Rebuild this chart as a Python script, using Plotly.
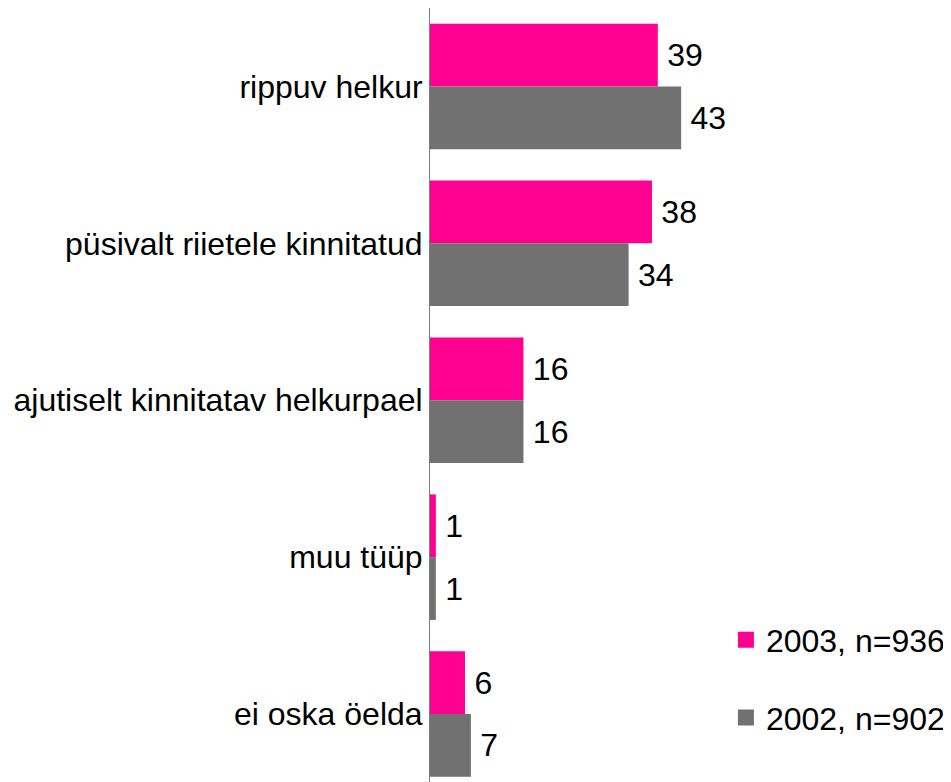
import plotly.graph_objects as go

categories = ["rippuv helkur", "püsivalt riietele kinnitatud", "ajutiselt kinnitatav helkurpael",
              "muu tüüp", "ei oska öelda"]
values_2003 = [39, 38, 16, 1, 6]
values_2002 = [43, 34, 16, 1, 7]
series_names = ["2003, n=936", "2002, n=902"]
colors = ["#FF0090", "#717171"]

FONT = "Liberation Sans, Arial, sans-serif"
FS = 32

fig = go.Figure()
for name, vals, col in zip(series_names, [values_2003, values_2002], colors):
    fig.add_trace(go.Bar(
        y=categories, x=vals, orientation="h", name=name,
        marker=dict(color=col, line=dict(width=0)),
        text=vals, texttemplate="\u2009%{x}", textposition="outside",
        textfont=dict(family=FONT, size=FS, color="black"),
        cliponaxis=False, showlegend=False,
    ))
# legend entries
for i, (name, col) in enumerate(zip(series_names, colors)):
    fig.add_trace(go.Scatter(
        x=[None], y=[None], mode="markers", name=name,
        marker=dict(symbol="square", size=16, color=col),
        legendgroup=f"g{i}", showlegend=True,
    ))

fig.update_layout(
    width=943, height=774,
    margin=dict(l=422, r=0, t=0, b=0),
    paper_bgcolor="white", plot_bgcolor="white",
    barmode="group", bargap=0.2, bargroupgap=0,
    font=dict(family=FONT, size=FS, color="black"),
    showlegend=True,
    legend=dict(x=0.568, xanchor="left", y=0.219, yanchor="top",
                font=dict(family=FONT, size=FS, color="black"),
                traceorder="grouped", tracegroupgap=33,
                bgcolor="rgba(0,0,0,0)", itemsizing="trace"),
    xaxis=dict(range=[0, 89.2], visible=False, showgrid=False, zeroline=False),
    yaxis=dict(range=[4.433, -0.5], showgrid=False, zeroline=False,
               showline=True, linecolor="#808080", linewidth=1,
               ticks="", ticklabelstandoff=0,
               tickfont=dict(family=FONT, size=FS, color="black")),
)

fig.write_html("out.html")
